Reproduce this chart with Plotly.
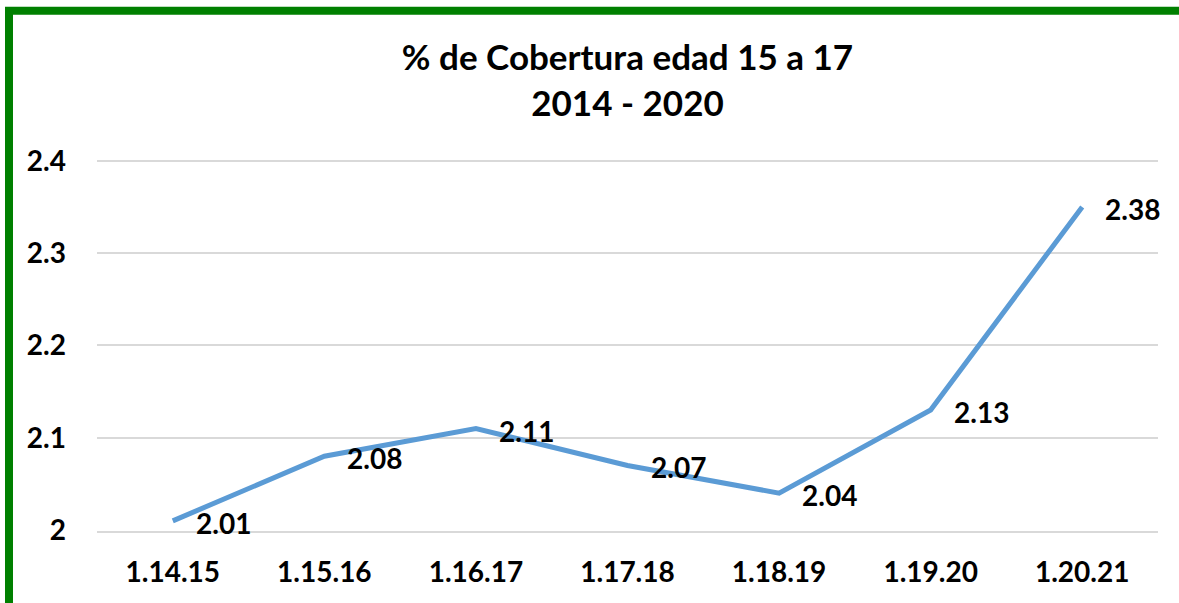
import plotly.graph_objects as go

categories = ["1.14.15", "1.15.16", "1.16.17", "1.17.18", "1.18.19", "1.19.20", "1.20.21"]
values = [2.01, 2.08, 2.11, 2.07, 2.04, 2.13, 2.35]
label_texts = ["2.01", "2.08", "2.11", "2.07", "2.04", "2.13", "2.38"]
y_ticks = [2.0, 2.1, 2.2, 2.3, 2.4]
y_tick_text = ["2", "2.1", "2.2", "2.3", "2.4"]
title_lines = ["% de Cobertura edad 15 a 17", "2014 - 2020"]

FONT = "Lato"
W, H = 1179, 603
y_lo, y_hi = 1.999, 2.403
px_per_unit = (530 - 161) / 0.4
L, R = 97, 21
T = 161 - (y_hi - 2.4) * px_per_unit
B = H - (530 + (2.0 - y_lo) * px_per_unit)
pw, ph = W - L - R, H - T - B

def px_x(px):
    return (px - L) / pw

def px_y(py):
    return (H - B - py) / ph

fig = go.Figure()
fig.add_trace(go.Scatter(
    x=categories, y=values, mode="lines",
    line=dict(color="#5B9BD5", width=5),
    hoverinfo="x+y", showlegend=False,
))

annotations = []
for c, v, t in zip(categories, values, label_texts):
    annotations.append(dict(
        x=c, y=v, xref="x", yref="y", text=t, showarrow=False,
        xanchor="left", yanchor="middle", xshift=21, yshift=-2,
        font=dict(family=FONT, size=28, color="#000000", weight="bold"),
    ))

fig.update_layout(
    width=W, height=H,
    margin=dict(l=L, r=R, t=T, b=B, autoexpand=False),
    paper_bgcolor="white", plot_bgcolor="white",
    title=dict(
        text=title_lines[0] + "<br>" + title_lines[1],
        x=0.5, xref="paper", xanchor="center",
        y=1 - 70 / H, yref="container", yanchor="middle",
        font=dict(family=FONT, size=35, color="#000000", weight="bold"),
    ),
    xaxis=dict(
        type="category", range=[-0.5, len(categories) - 0.5], automargin=False,
        showgrid=False, showline=True, linecolor="#d9d9d9", linewidth=1.5,
        ticks="", tickfont=dict(family=FONT, size=28, color="#000000", weight="bold"),
        ticklabelstandoff=16,
    ),
    yaxis=dict(
        range=[y_lo, y_hi], tickvals=y_ticks, ticktext=y_tick_text, automargin=False,
        showgrid=True, gridcolor="#d9d9d9", gridwidth=1.5, zeroline=False, showline=False,
        ticks="", tickfont=dict(family=FONT, size=28, color="#000000", weight="bold"),
        ticklabelstandoff=30,
    ),
    annotations=annotations,
    shapes=[dict(
        type="rect", xref="paper", yref="paper",
        x0=px_x(9), x1=px_x(1200), y0=px_y(620), y1=px_y(11),
        line=dict(color="#008000", width=8), fillcolor="rgba(0,0,0,0)", layer="below",
    )],
)

fig.write_html("out.html", config={"displayModeBar": False},
               post_script="document.body.style.margin='0';")
